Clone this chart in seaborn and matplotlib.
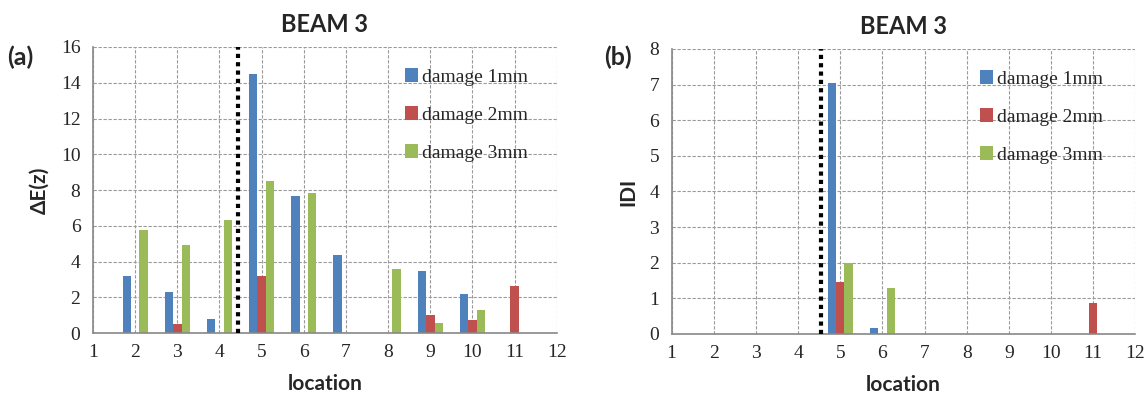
import numpy as np
import pandas as pd
import matplotlib
matplotlib.use("Agg")
import matplotlib.pyplot as plt
import seaborn as sns

# locations along the beam
locations = list(range(1, 13))
series = ["damage 1mm", "damage 2mm", "damage 3mm"]
colors = ["#4F81BD", "#C0504D", "#9BBB59"]

# panel (a): Delta E(z)
dE_1mm = [0, 3.2, 2.3, 0.8, 14.5, 7.65, 4.35, 0, 3.5, 2.2, 0, 0]
dE_2mm = [0, 0, 0.5, 0, 3.2, 0, 0, 0, 1.0, 0.75, 2.65, 0]
dE_3mm = [0, 5.75, 4.9, 6.3, 8.5, 7.85, 0, 3.6, 0.55, 1.3, 0, 0]

# panel (b): IDI
idi_1mm = [0, 0, 0, 0, 7.05, 0.18, 0, 0, 0, 0, 0, 0]
idi_2mm = [0, 0, 0, 0, 1.45, 0, 0, 0, 0, 0, 0.88, 0]
idi_3mm = [0, 0, 0, 0, 2.0, 1.3, 0, 0, 0, 0, 0, 0]

# damage location marker
damage_pos_a = 4.45
damage_pos_b = 4.55


def long_df(a, b, c):
    rows = []
    for s, vals in zip(series, [a, b, c]):
        for loc, v in zip(locations, vals):
            rows.append({"location": loc, "series": s, "value": v})
    return pd.DataFrame(rows)


sns.set_style("white")
serif = ["Liberation Serif", "DejaVu Serif"]
sans = ["Lato", "DejaVu Sans"]
plt.rcParams["font.family"] = serif

fig = plt.figure(figsize=(11.48, 3.98), dpi=100)
ax_a = fig.add_axes([0.081, 0.163, 0.404, 0.719])
ax_b = fig.add_axes([0.585, 0.161, 0.404, 0.716])

panels = [
    (ax_a, long_df(dE_1mm, dE_2mm, dE_3mm), 16, 2, "ΔE(z)", "(a)", 0.006, damage_pos_a, 0.672),
    (ax_b, long_df(idi_1mm, idi_2mm, idi_3mm), 8, 1, "IDI", "(b)", 0.526, damage_pos_b, 0.664),
]

for ax, df, ymax, ystep, ylab, tag, tagx, dpos, legx in panels:
    sns.barplot(data=df, x="location", y="value", hue="series", palette=colors,
                native_scale=True, width=0.6, saturation=1, linewidth=0, ax=ax)
    ax.set_xlim(1, 12)
    ax.set_ylim(0, ymax)
    ax.set_xticks(locations)
    ax.set_yticks(np.arange(0, ymax + ystep, ystep))
    ax.tick_params(axis="both", labelsize=14, length=5, width=1, color="#888888", pad=4)
    ax.tick_params(axis="x", direction="inout", length=8)
    ax.grid(True, color="#9a9a9a", linestyle=(0, (3, 1.5)), linewidth=0.8)
    ax.set_axisbelow(True)
    for s in ["top", "right"]:
        ax.spines[s].set_visible(False)
    for s in ["left", "bottom"]:
        ax.spines[s].set_color("#888888")
        ax.spines[s].set_linewidth(1.2)

    ax.axvline(dpos, color="black", linewidth=3, linestyle=(0, (1, 1)), zorder=3)

    ax.set_xlabel("location", fontsize=15, fontweight="bold", family=sans, labelpad=9)
    ax.set_ylabel(ylab, fontsize=15, fontweight="bold", family=sans, labelpad=8)
    ax.set_title("BEAM 3", fontsize=17, fontweight="bold", family=sans, pad=11)
    fig.text(tagx, 0.857, tag, fontsize=18, fontweight="bold", family=sans,
             va="center", ha="left")

    handles, labels = ax.get_legend_handles_labels()
    ax.legend(handles, labels, loc="upper left", bbox_to_anchor=(legx, 0.925),
              frameon=False, borderpad=0, borderaxespad=0, handlelength=0.7,
              handleheight=0.7, handletextpad=0.2, labelspacing=1.05,
              prop={"family": serif, "size": 14})

fig.savefig("out.png", dpi=100)
